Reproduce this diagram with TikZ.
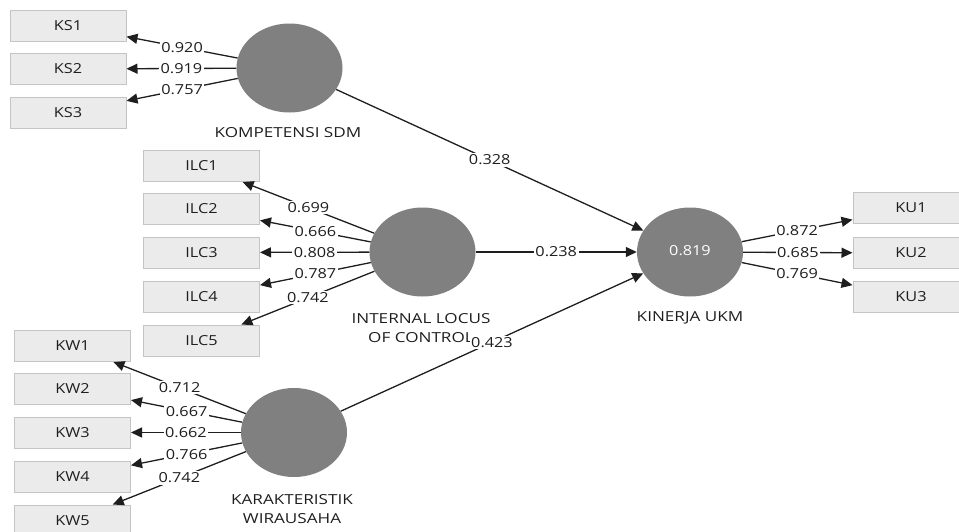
\documentclass[tikz,border=0pt]{standalone}
\usepackage{fontspec}
\setmainfont{Open Sans}
\usepackage{graphicx}
\usetikzlibrary{shapes.geometric,arrows.meta}
\definecolor{latent}{HTML}{808080}
\definecolor{boxfill}{HTML}{EBEBEB}
\definecolor{boxdraw}{HTML}{C4C4C4}
\definecolor{ink}{HTML}{1E1E1E}
\newcommand\sx[1]{\scalebox{1.18}[1]{#1}}
\newcommand\sxl[1]{\scalebox{1.24}[1]{#1}}
\begin{document}
\begin{tikzpicture}[x=1pt,y=-1pt,
  font=\fontsize{13.8}{19}\selectfont, text=ink,
  ind/.style={draw=boxdraw, fill=boxfill, line width=1pt, minimum width=116pt, minimum height=31pt, inner sep=0pt},
  lat/.style={ellipse, fill=latent, minimum width=106pt, minimum height=89pt, inner sep=0pt},
  lbl/.style={align=center, inner sep=0pt},
  ld/.style={draw=ink, line width=1.3pt, -{Triangle[length=11pt,width=10pt]}},
  val/.style={fill=white, inner sep=1.5pt, pos=0.5}]
\useasboundingbox (0,0) rectangle (959,531);
\clip (0,0) rectangle (959,531);

% latent variables
\node[lat] (ks) at (289.5,68) {};
\node[lat] (ilc) at (422.5,252) {};
\node[lat] (kw) at (294,432.5) {};
\node[lat, text=white] (ku) at (690,252) {\raisebox{3pt}{\sx{0.819}}};

\node[lbl] (ksl) at (288,133) {\sxl{KOMPETENSI SDM}};
\node[lbl] (ilcl) at (421,328) {\sxl{INTERNAL LOCUS}\\\sxl{OF CONTROL}};
\node[lbl] (kwl) at (292,509) {\sxl{KARAKTERISTIK}\\\sxl{WIRAUSAHA}};
\node[lbl] (kul) at (690,318) {\sxl{KINERJA UKM}};

% indicators
\node[ind] (ks1) at (68,25.5) {\sx{KS1}};
\node[ind] (ks2) at (68,69) {\sx{KS2}};
\node[ind] (ks3) at (68,112.5) {\sx{KS3}};

\node[ind] (ilc1) at (201.5,166) {\sx{ILC1}};
\node[ind] (ilc2) at (201.5,209) {\sx{ILC2}};
\node[ind] (ilc3) at (201.5,252.5) {\sx{ILC3}};
\node[ind] (ilc4) at (201.5,297) {\sx{ILC4}};
\node[ind] (ilc5) at (201.5,340.5) {\sx{ILC5}};

\node[ind] (kw1) at (72.5,346) {\sx{KW1}};
\node[ind] (kw2) at (72.5,388.5) {\sx{KW2}};
\node[ind] (kw3) at (72.5,432.5) {\sx{KW3}};
\node[ind] (kw4) at (72.5,477) {\sx{KW4}};
\node[ind] (kw5) at (72.5,520.5) {\sx{KW5}};

\node[ind] (ku1) at (911,208) {\sx{KU1}};
\node[ind] (ku2) at (911,253) {\sx{KU2}};
\node[ind] (ku3) at (911,297) {\sx{KU3}};

% loadings
\draw[ld] (ks) -- node[val]{\sx{0.920}} (ks1);
\draw[ld] (ks) -- node[val]{\sx{0.919}} (ks2);
\draw[ld] (ks) -- node[val]{\sx{0.757}} (ks3);

\draw[ld] (ilc) -- node[val]{\sx{0.699}} (ilc1);
\draw[ld] (ilc) -- node[val]{\sx{0.666}} (ilc2);
\draw[ld] (ilc) -- node[val]{\sx{0.808}} (ilc3);
\draw[ld] (ilc) -- node[val]{\sx{0.787}} (ilc4);
\draw[ld] (ilc) -- node[val]{\sx{0.742}} (ilc5);

\draw[ld] (kw) -- node[val]{\sx{0.712}} (kw1);
\draw[ld] (kw) -- node[val]{\sx{0.667}} (kw2);
\draw[ld] (kw) -- node[val]{\sx{0.662}} (kw3);
\draw[ld] (kw) -- node[val]{\sx{0.766}} (kw4);
\draw[ld] (kw) -- node[val]{\sx{0.742}} (kw5);

\draw[ld] (ku) -- node[val]{\sx{0.872}} (ku1);
\draw[ld] (ku) -- node[val]{\sx{0.685}} (ku2);
\draw[ld] (ku) -- node[val]{\sx{0.769}} (ku3);

% paths
\draw[ld] (ks) -- node[val]{\sx{0.328}} (ku);
\draw[ld] (ilc) -- node[val]{\sx{0.238}} (ku);
\draw[ld] (kw) -- node[val]{\sx{0.423}} (ku);
\end{tikzpicture}
\end{document}
